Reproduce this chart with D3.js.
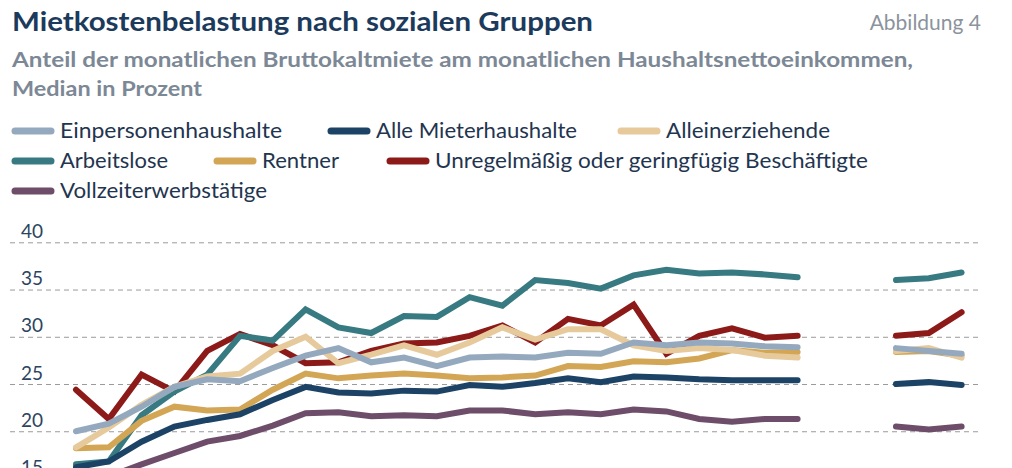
<!DOCTYPE html>
<html>
<head>
<meta charset="utf-8">
<script src="https://cdn.jsdelivr.net/npm/d3@7"></script>
<style>
  body { margin: 0; background: #fff; }
  text { font-family: "Lato", "Noto Sans", sans-serif; }
</style>
</head>
<body>
<svg id="chart" width="1012" height="468"></svg>
<script>
// years on the x axis; 2014 and 2015 have no values
const years = d3.range(1991, 2019);
const yTicks = [15, 20, 25, 30, 35, 40];

const einpersonen = [20.0, 20.8, 22.6, 24.7, 25.5, 25.3, 26.7, 28.0, 28.8, 27.3, 27.8, 26.9, 27.8, 27.9, 27.8, 28.3, 28.2, 29.4, 29.1, 29.4, 29.3, 29.0, 28.9, null, null, 28.8, 28.5, 28.2];
const alleMieter = [16.2, 16.8, 18.9, 20.5, 21.2, 21.8, 23.3, 24.7, 24.1, 24.0, 24.3, 24.2, 24.9, 24.7, 25.1, 25.6, 25.2, 25.8, 25.7, 25.5, 25.4, 25.4, 25.4, null, null, 25.0, 25.2, 24.9];
const alleinerziehende = [18.3, 20.4, 22.8, 24.7, 25.8, 26.1, 28.5, 30.0, 27.2, 28.1, 29.1, 28.1, 29.4, 31.0, 29.7, 30.8, 30.8, 29.1, 28.5, 28.8, 28.6, 28.0, 27.8, null, null, 28.5, 28.8, 27.8];
const arbeitslose = [16.5, 16.8, 21.7, 24.2, 26.0, 30.1, 29.6, 32.9, 31.0, 30.4, 32.2, 32.1, 34.2, 33.3, 36.0, 35.7, 35.1, 36.5, 37.1, 36.7, 36.8, 36.6, 36.3, null, null, 36.0, 36.2, 36.8];
const rentner = [18.2, 18.3, 21.1, 22.6, 22.2, 22.3, 24.4, 26.1, 25.6, 25.9, 26.1, 25.9, 25.6, 25.7, 25.9, 26.9, 26.8, 27.4, 27.3, 27.7, 28.6, 28.3, 28.4, null, null, 28.4, 28.5, 28.0];
const unregelmaessig = [24.4, 21.3, 26.0, 24.2, 28.5, 30.3, 29.1, 27.2, 27.3, 28.5, 29.3, 29.4, 30.1, 31.2, 29.4, 31.9, 31.2, 33.4, 28.2, 30.1, 30.9, 29.9, 30.1, null, null, 30.1, 30.4, 32.6];
const vollzeit = [14.6, 15.2, 16.5, 17.7, 18.9, 19.5, 20.6, 21.9, 22.0, 21.6, 21.7, 21.6, 22.2, 22.2, 21.8, 22.0, 21.8, 22.3, 22.1, 21.3, 21.0, 21.3, 21.3, null, null, 20.5, 20.2, 20.5];

const series = [
  { name: "Einpersonenhaushalte", values: einpersonen, color: "#95a9be" },
  { name: "Alle Mieterhaushalte", values: alleMieter, color: "#1c4366" },
  { name: "Alleinerziehende", values: alleinerziehende, color: "#e6ca9c" },
  { name: "Arbeitslose", values: arbeitslose, color: "#377a82" },
  { name: "Rentner", values: rentner, color: "#d3a656" },
  { name: "Unregelmäßig oder geringfügig Beschäftigte", values: unregelmaessig, color: "#8c1a19" },
  { name: "Vollzeiterwerbstätige", values: vollzeit, color: "#6d4d69" }
];

// legend layout: [swatch x, row center y, label width]
const legendLayout = [
  [12, 131, 222], [328, 131, 201], [618, 131, 164],
  [12, 161, 108], [214, 161, 77], [387, 161, 433],
  [12, 191, 207]
];

// which series lie on top (drawn last)
const drawOrder = ["Unregelmäßig oder geringfügig Beschäftigte", "Arbeitslose", "Rentner",
  "Alle Mieterhaushalte", "Vollzeiterwerbstätige", "Alleinerziehende", "Einpersonenhaushalte"];

const svg = d3.select("#chart");

// titles
svg.append("text").attr("x", 12).attr("y", 31)
  .attr("font-size", 27).attr("font-weight", 700).attr("fill", "#1c3a5b")
  .attr("textLength", 581).attr("lengthAdjust", "spacingAndGlyphs")
  .text("Mietkostenbelastung nach sozialen Gruppen");

svg.append("text").attr("x", 981).attr("y", 30).attr("text-anchor", "end")
  .attr("font-size", 21).attr("fill", "#8b939d")
  .text("Abbildung 4");

svg.append("text").attr("x", 12).attr("y", 67)
  .attr("font-size", 20).attr("font-weight", 700).attr("fill", "#7c8895")
  .attr("textLength", 901).attr("lengthAdjust", "spacingAndGlyphs")
  .text("Anteil der monatlichen Bruttokaltmiete am monatlichen Haushaltsnettoeinkommen,");

svg.append("text").attr("x", 12).attr("y", 96)
  .attr("font-size", 20).attr("font-weight", 700).attr("fill", "#7c8895")
  .attr("textLength", 190).attr("lengthAdjust", "spacingAndGlyphs")
  .text("Median in Prozent");

// legend
const legend = svg.append("g");
series.forEach((s, i) => {
  const [lx, ly, lw] = legendLayout[i];
  legend.append("line")
    .attr("x1", lx + 3).attr("x2", lx + 39).attr("y1", ly).attr("y2", ly)
    .attr("stroke", s.color).attr("stroke-width", 7).attr("stroke-linecap", "round");
  legend.append("text")
    .attr("x", lx + 48).attr("y", ly + 7)
    .attr("font-size", 21).attr("fill", "#1f3550")
    .attr("textLength", lw).attr("lengthAdjust", "spacingAndGlyphs")
    .text(s.name);
});

// scales
const x = d3.scalePoint()
  .domain(years)
  .range([76, 961.6]);

const y = d3.scaleLinear()
  .domain([15, 40])
  .range([478.5, 242.3]);

// grid + tick labels
const axis = svg.append("g")
  .attr("transform", "translate(10,0)")
  .call(d3.axisRight(y).tickValues(yTicks).tickSize(971).tickFormat(d => d));

axis.select(".domain").remove();
axis.selectAll(".tick line")
  .attr("stroke", "#9a9a9a")
  .attr("stroke-dasharray", "5,4");
axis.selectAll(".tick text")
  .attr("x", 11).attr("dy", -5)
  .attr("text-anchor", "start")
  .attr("font-size", 19)
  .attr("font-family", "Lato, sans-serif")
  .attr("fill", "#2c4462");

// lines
const line = d3.line()
  .defined(d => d.v != null)
  .x(d => x(d.year))
  .y(d => y(d.v));

const ordered = drawOrder.map(n => series.find(s => s.name === n));

svg.append("g").selectAll("path")
  .data(ordered)
  .enter().append("path")
  .attr("fill", "none")
  .attr("stroke", d => d.color)
  .attr("stroke-width", 6)
  .attr("stroke-linecap", "round")
  .attr("stroke-linejoin", "miter")
  .attr("d", d => line(d.values.map((v, i) => ({ year: years[i], v: v }))));
</script>
</body>
</html>
